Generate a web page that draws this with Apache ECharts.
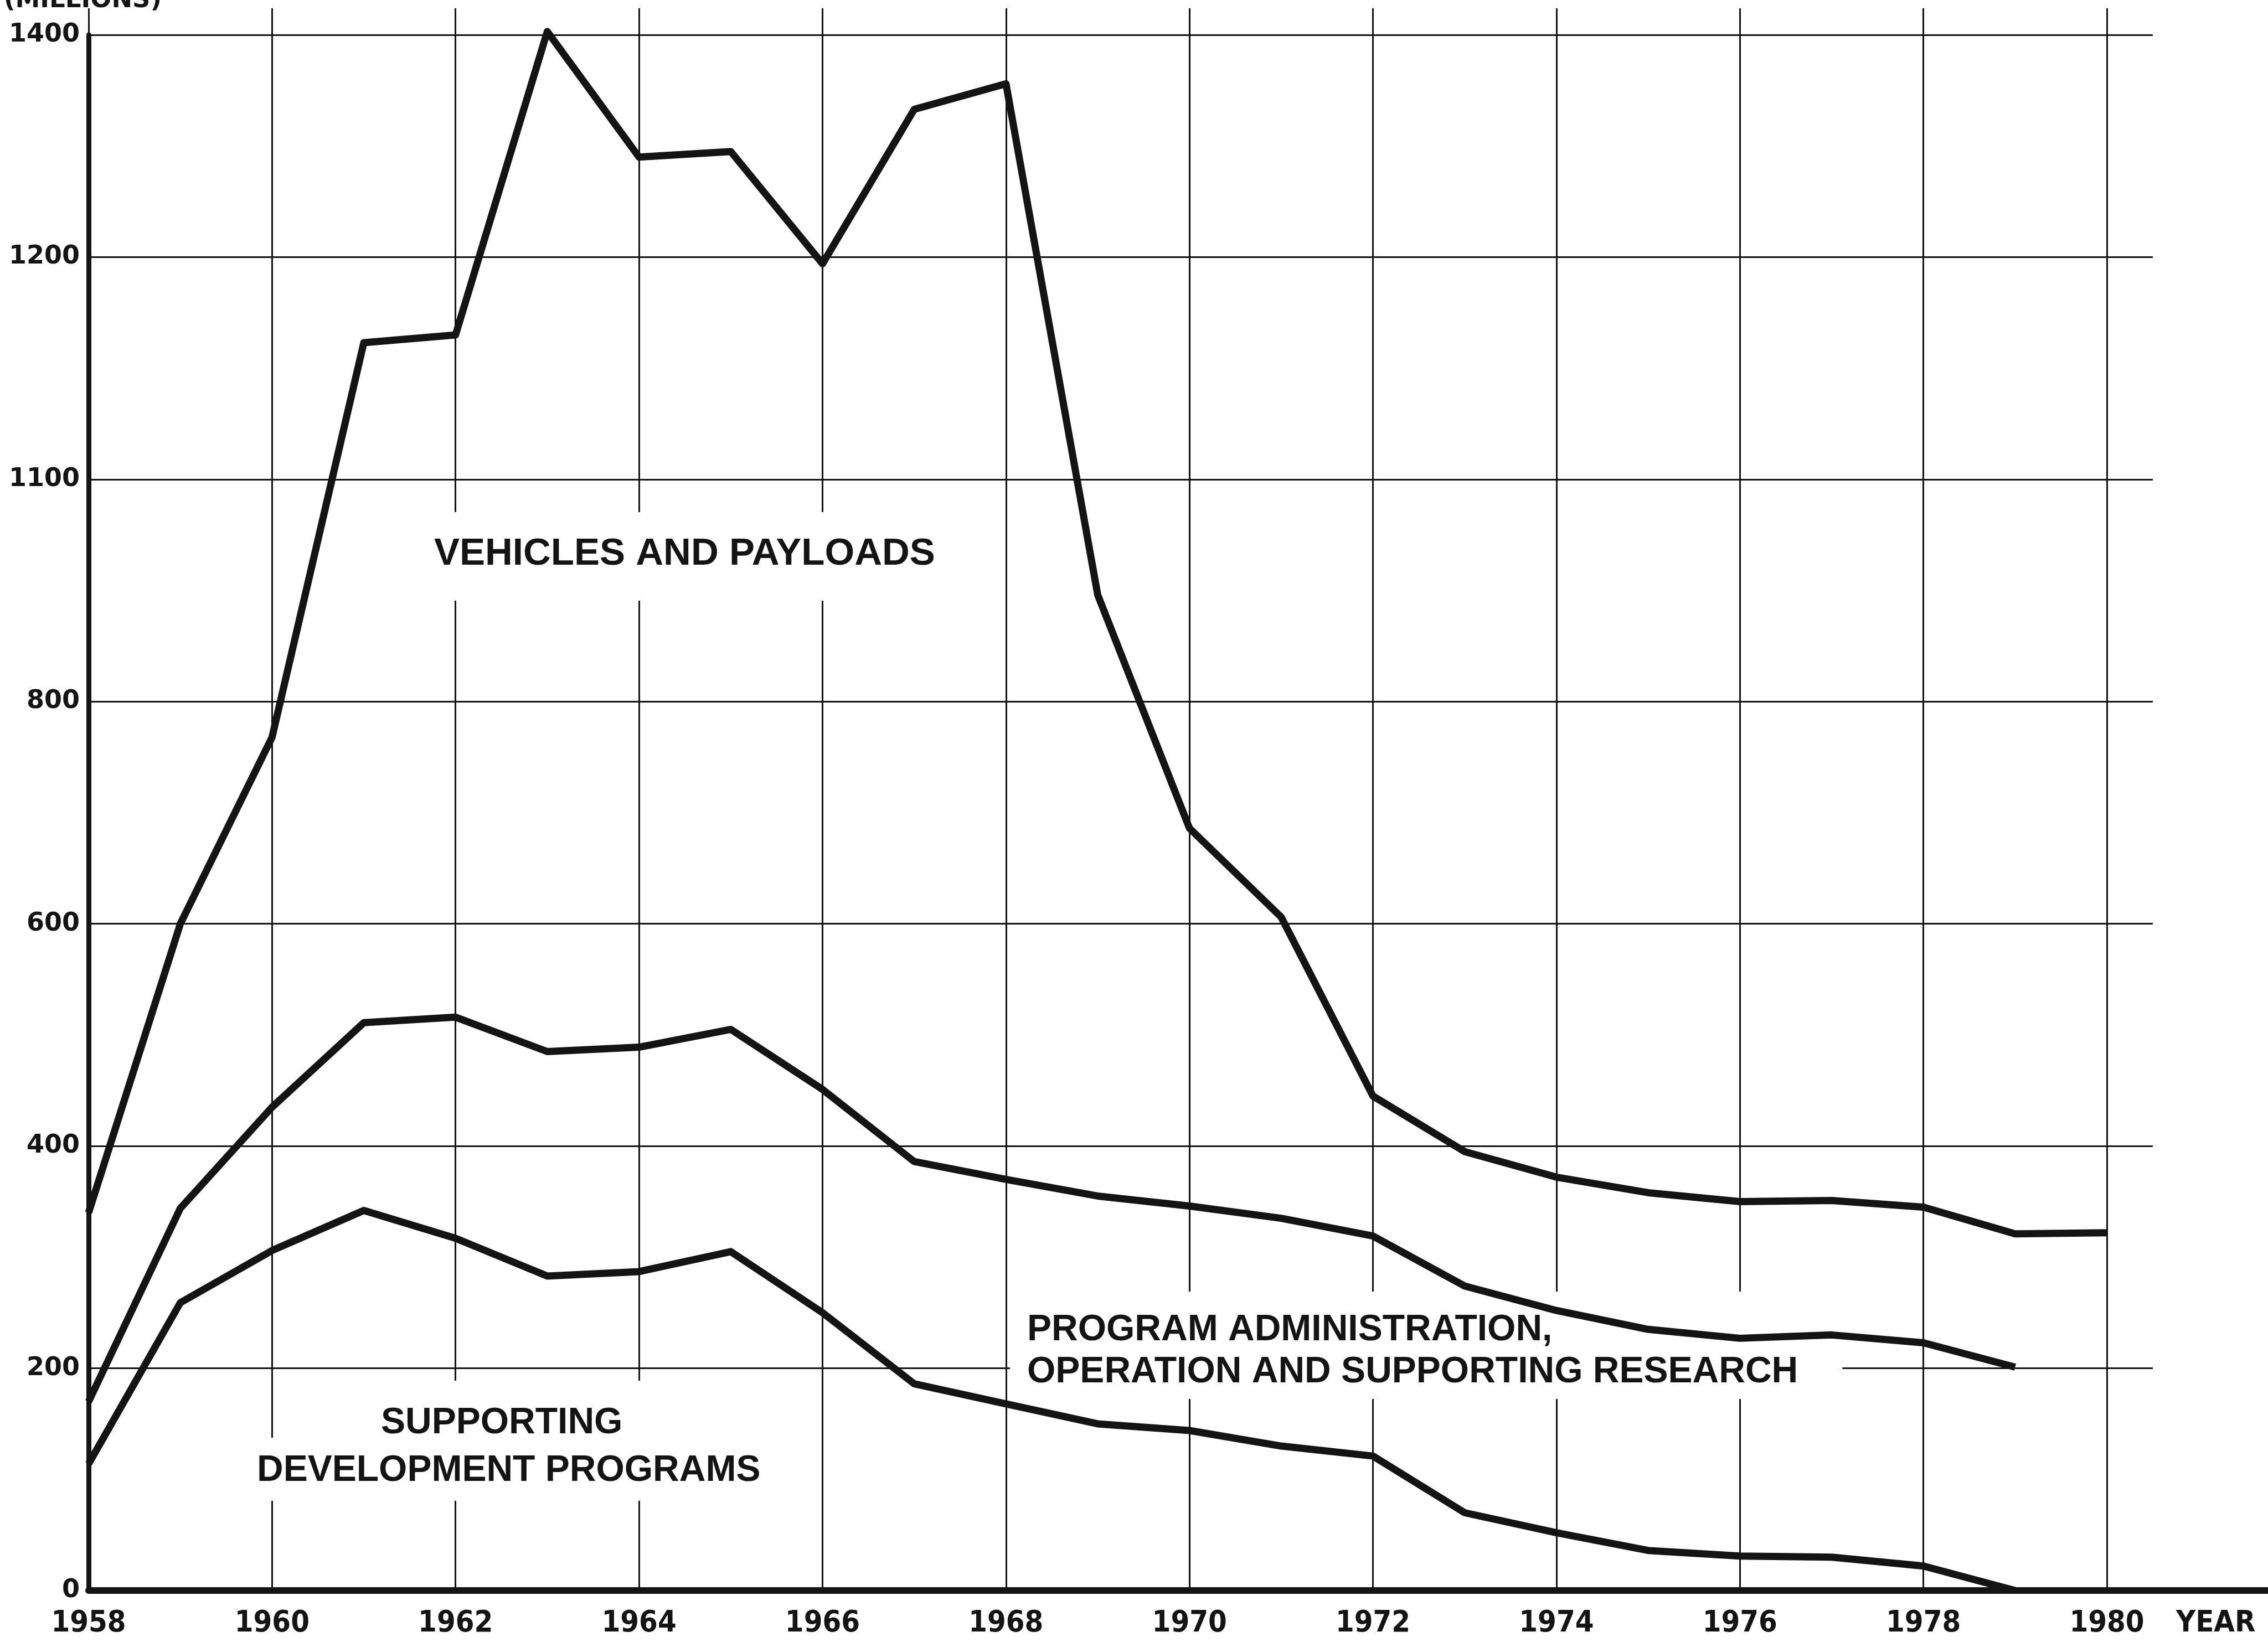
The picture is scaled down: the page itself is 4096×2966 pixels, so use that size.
<!DOCTYPE html>
<html>
<head>
<meta charset="utf-8">
<title>Vehicles and payloads, program administration, supporting development</title>
<style>
  html, body { margin: 0; padding: 0; background: #ffffff; }
  #chart { width: 4096px; height: 2966px; }
</style>
<script src="https://cdn.jsdelivr.net/npm/echarts@6/dist/echarts.min.js"></script>
</head>
<body>
<div id="chart"></div>
<script>
// values, millions, one per year from 1958
var years = [1958, 1959, 1960, 1961, 1962, 1963, 1964, 1965, 1966, 1967, 1968, 1969,
             1970, 1971, 1972, 1973, 1974, 1975, 1976, 1977, 1978, 1979, 1980];
var vehiclesAndPayloads = [340, 600, 768, 1123, 1130, 1403, 1290, 1295, 1194, 1333, 1356, 896,
                           686, 606, 445, 395, 372, 358, 350, 351, 345, 321, 322];
var programAdministration = [170, 344, 435, 511, 516, 485, 489, 505, 451, 386, 370, 355,
                             346, 335, 319, 274, 252, 235, 227, 230, 223, 201];
var supportingDevelopment = [114, 259, 306, 342, 317, 283, 287, 305, 250, 186, 168, 150,
                             144, 130, 121, 70, 52, 36, 31, 30, 22, 0];

// tick labels as printed (the 5th gridline above zero is labelled 1100 on the original)
var yTickLabels = ['0', '200', '400', '600', '800', '1100', '1200', '1400'];
var xTickLabels = ['1958', '1960', '1962', '1964', '1966', '1968', '1970', '1972', '1974', '1976', '1978', '1980'];

var INK = '#141414';
var plotLeft = 160;
var plotTop = 63;       // 1400 gridline
var plotBottom = 93;    // distance of the zero line from the bottom of the window
var baseY = 2966 - plotBottom;
var vTop = 15;          // year lines run a little above the top gridline
var yMaxTall = 1400 * (baseY - vTop) / (baseY - plotTop);

var narrow = "'Liberation Sans Narrow', 'DejaVu Sans Condensed', 'Liberation Sans', sans-serif";
var wide = "'DejaVu Sans', 'Liberation Sans', sans-serif";
var plain = "'Liberation Sans', 'Arial', sans-serif";

function pairs(values) {
  return values.map(function (v, i) { return [years[i], v]; });
}

function lineSeries(name, values) {
  return {
    name: name,
    type: 'line',
    xAxisIndex: 2,
    yAxisIndex: 2,
    data: pairs(values),
    symbol: 'none',
    lineStyle: { color: INK, width: 13, join: 'round' },
    z: 3
  };
}

// curve captions sit on white so the rulings break around them, as on the original
function label(x, y, text, pad, size, lineHeight) {
  return {
    type: 'text',
    x: x,
    y: y,
    z: 1,
    style: {
      text: text,
      fill: INK,
      fontFamily: plain,
      fontWeight: 'bold',
      fontSize: size,
      lineHeight: lineHeight || size,
      align: 'left',
      verticalAlign: 'top',
      textAlign: 'left',
      textVerticalAlign: 'top',
      backgroundColor: '#ffffff',
      padding: pad
    }
  };
}

var chart = echarts.init(document.getElementById('chart'));
chart.setOption({
  animation: false,
  backgroundColor: '#ffffff',
  grid: [
    // long base line running out to the right edge
    { left: plotLeft, right: 0, top: plotTop, bottom: plotBottom },
    // horizontal rulings and money labels
    { left: plotLeft, right: 208, top: plotTop, bottom: plotBottom },
    // year rulings and the three curves
    { left: plotLeft, right: 291, top: vTop, bottom: plotBottom }
  ],
  xAxis: [
    {
      gridIndex: 0, type: 'value', min: 0, max: 1,
      axisLine: { show: true, lineStyle: { color: INK, width: 12 } },
      axisTick: { show: false }, axisLabel: { show: false }, splitLine: { show: false }
    },
    { gridIndex: 1, type: 'value', min: 0, max: 1, show: false },
    {
      gridIndex: 2, type: 'value', min: 1958, max: 1980, interval: 2,
      axisLine: { show: false },
      axisTick: { show: false },
      axisLabel: {
        margin: 33,
        color: INK,
        fontFamily: narrow,
        fontWeight: 'bold',
        fontSize: 54,
        formatter: function (v) {
          var s = String(v);
          return xTickLabels.indexOf(s) >= 0 ? s : '';
        }
      },
      splitLine: { show: true, lineStyle: { color: INK, width: 3 } }
    }
  ],
  yAxis: [
    { gridIndex: 0, type: 'value', min: 0, max: 1400, show: false },
    {
      gridIndex: 1, type: 'value', min: 0, max: 1400, interval: 200,
      axisLine: { show: true, lineStyle: { color: INK, width: 9 } },
      axisTick: { show: false },
      axisLabel: {
        margin: 16,
        color: INK,
        fontFamily: wide,
        fontWeight: 'bold',
        fontSize: 46,
        formatter: function (v) { return yTickLabels[Math.round(v / 200)]; }
      },
      splitLine: { show: true, lineStyle: { color: INK, width: 3 } }
    },
    { gridIndex: 2, type: 'value', min: 0, max: yMaxTall, show: false }
  ],
  graphic: [
    {
      type: 'text', x: 7, y: -21, z: 1,
      style: {
        text: '(MILLIONS)', fill: INK, fontFamily: wide, fontWeight: 'bold',
        fontSize: 45, lineHeight: 45, align: 'left', verticalAlign: 'top',
        textAlign: 'left', textVerticalAlign: 'top'
      }
    },
    {
      type: 'text', x: 3930, y: 2933, z: 1,
      style: {
        text: 'YEAR', fill: INK, fontFamily: narrow, fontWeight: 'bold',
        fontSize: 54, align: 'left', verticalAlign: 'middle',
        textAlign: 'left', textVerticalAlign: 'middle'
      }
    },
    label(746, 925, 'VEHICLES AND PAYLOADS', [41, 40, 50, 38], 69),
    label(1824, 2333, 'PROGRAM ADMINISTRATION,\nOPERATION AND SUPPORTING RESEARCH', [32, 80, 10, 31], 66, 76),
    label(658, 2494, 'SUPPORTING', [44, 40, 15, 30], 66),
    label(437, 2597, 'DEVELOPMENT PROGRAMS', [27, 30, 21, 27], 66)
  ],
  series: [
    lineSeries('Vehicles and payloads', vehiclesAndPayloads),
    lineSeries('Program administration, operation and supporting research', programAdministration),
    lineSeries('Supporting development programs', supportingDevelopment)
  ]
});
</script>
</body>
</html>
